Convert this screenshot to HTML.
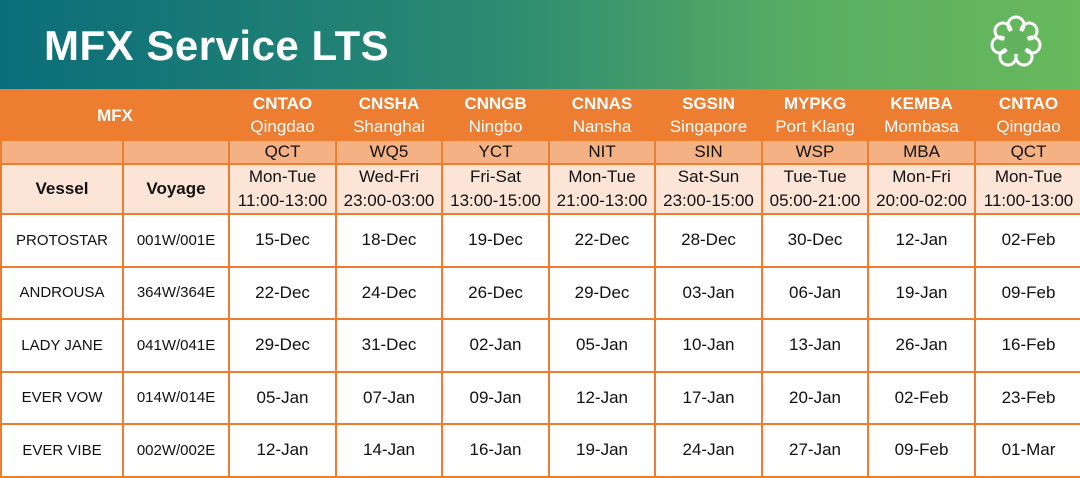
<!DOCTYPE html>
<html><head><meta charset="utf-8"><style>
*{margin:0;padding:0;box-sizing:border-box}
body{width:1080px;height:478px;overflow:hidden;background:#fff;font-family:"Liberation Sans",sans-serif;position:relative}
.hd{position:absolute;left:0;top:0;width:1080px;height:89px;background:linear-gradient(90deg,#0b6d7a 0%,#2a8a72 45%,#5aae62 75%,#68b95c 100%)}
.hd h1{position:absolute;left:44px;top:22px;color:#fff;font-size:42px;font-weight:bold;letter-spacing:0.5px}
.logo{position:absolute;left:988px;top:14px}
table{position:absolute;left:0;top:89px;border-collapse:collapse;table-layout:fixed;width:1081px}
td{border:2px solid #ed7d31;text-align:center;vertical-align:middle;font-size:17px;color:#111;overflow:hidden;white-space:nowrap}
tr.r1 td{background:#ed7d31;color:#fff;height:50px;border-color:#ed7d31;line-height:23px}
tr.r1 b{font-size:17px}
tr.r2 td{background:#f4b183;height:24px}
tr.r3 td{background:#fce4d6;height:50px;line-height:24px}
tr.d td{height:52.5px;background:#fff}
td.v{font-size:15px}
</style></head><body>
<div class="hd"><h1>MFX Service LTS</h1>
<svg class="logo" width="56" height="56" viewBox="0 0 56 56" fill="none" stroke="#fff" stroke-width="3">
<circle cx="28" cy="11" r="8"/><circle cx="41" cy="17" r="8"/><circle cx="44" cy="31" r="8"/><circle cx="36" cy="43" r="8"/><circle cx="20" cy="43" r="8"/><circle cx="12" cy="31" r="8"/><circle cx="15" cy="17" r="8"/>
<circle cx="28" cy="28" r="12" fill="#62b35f" stroke="none"/></svg></div>
<table>
<colgroup><col style="width:122px"><col style="width:106px"><col style="width:107px"><col style="width:106px"><col style="width:107px"><col style="width:106px"><col style="width:107px"><col style="width:106px"><col style="width:107px"><col style="width:107px"></colgroup>
<tr class="r1"><td colspan="2"><b>MFX</b></td><td><b>CNTAO</b><br>Qingdao</td><td><b>CNSHA</b><br>Shanghai</td><td><b>CNNGB</b><br>Ningbo</td><td><b>CNNAS</b><br>Nansha</td><td><b>SGSIN</b><br>Singapore</td><td><b>MYPKG</b><br>Port Klang</td><td><b>KEMBA</b><br>Mombasa</td><td><b>CNTAO</b><br>Qingdao</td></tr>
<tr class="r2"><td></td><td></td><td>QCT</td><td>WQ5</td><td>YCT</td><td>NIT</td><td>SIN</td><td>WSP</td><td>MBA</td><td>QCT</td></tr>
<tr class="r3"><td><b>Vessel</b></td><td><b>Voyage</b></td><td>Mon-Tue<br>11:00-13:00</td><td>Wed-Fri<br>23:00-03:00</td><td>Fri-Sat<br>13:00-15:00</td><td>Mon-Tue<br>21:00-13:00</td><td>Sat-Sun<br>23:00-15:00</td><td>Tue-Tue<br>05:00-21:00</td><td>Mon-Fri<br>20:00-02:00</td><td>Mon-Tue<br>11:00-13:00</td></tr>
<tr class="d"><td class="v">PROTOSTAR</td><td class="v">001W/001E</td><td>15-Dec</td><td>18-Dec</td><td>19-Dec</td><td>22-Dec</td><td>28-Dec</td><td>30-Dec</td><td>12-Jan</td><td>02-Feb</td></tr>
<tr class="d"><td class="v">ANDROUSA</td><td class="v">364W/364E</td><td>22-Dec</td><td>24-Dec</td><td>26-Dec</td><td>29-Dec</td><td>03-Jan</td><td>06-Jan</td><td>19-Jan</td><td>09-Feb</td></tr>
<tr class="d"><td class="v">LADY JANE</td><td class="v">041W/041E</td><td>29-Dec</td><td>31-Dec</td><td>02-Jan</td><td>05-Jan</td><td>10-Jan</td><td>13-Jan</td><td>26-Jan</td><td>16-Feb</td></tr>
<tr class="d"><td class="v">EVER VOW</td><td class="v">014W/014E</td><td>05-Jan</td><td>07-Jan</td><td>09-Jan</td><td>12-Jan</td><td>17-Jan</td><td>20-Jan</td><td>02-Feb</td><td>23-Feb</td></tr>
<tr class="d"><td class="v">EVER VIBE</td><td class="v">002W/002E</td><td>12-Jan</td><td>14-Jan</td><td>16-Jan</td><td>19-Jan</td><td>24-Jan</td><td>27-Jan</td><td>09-Feb</td><td>01-Mar</td></tr>
</table>
</body></html>
